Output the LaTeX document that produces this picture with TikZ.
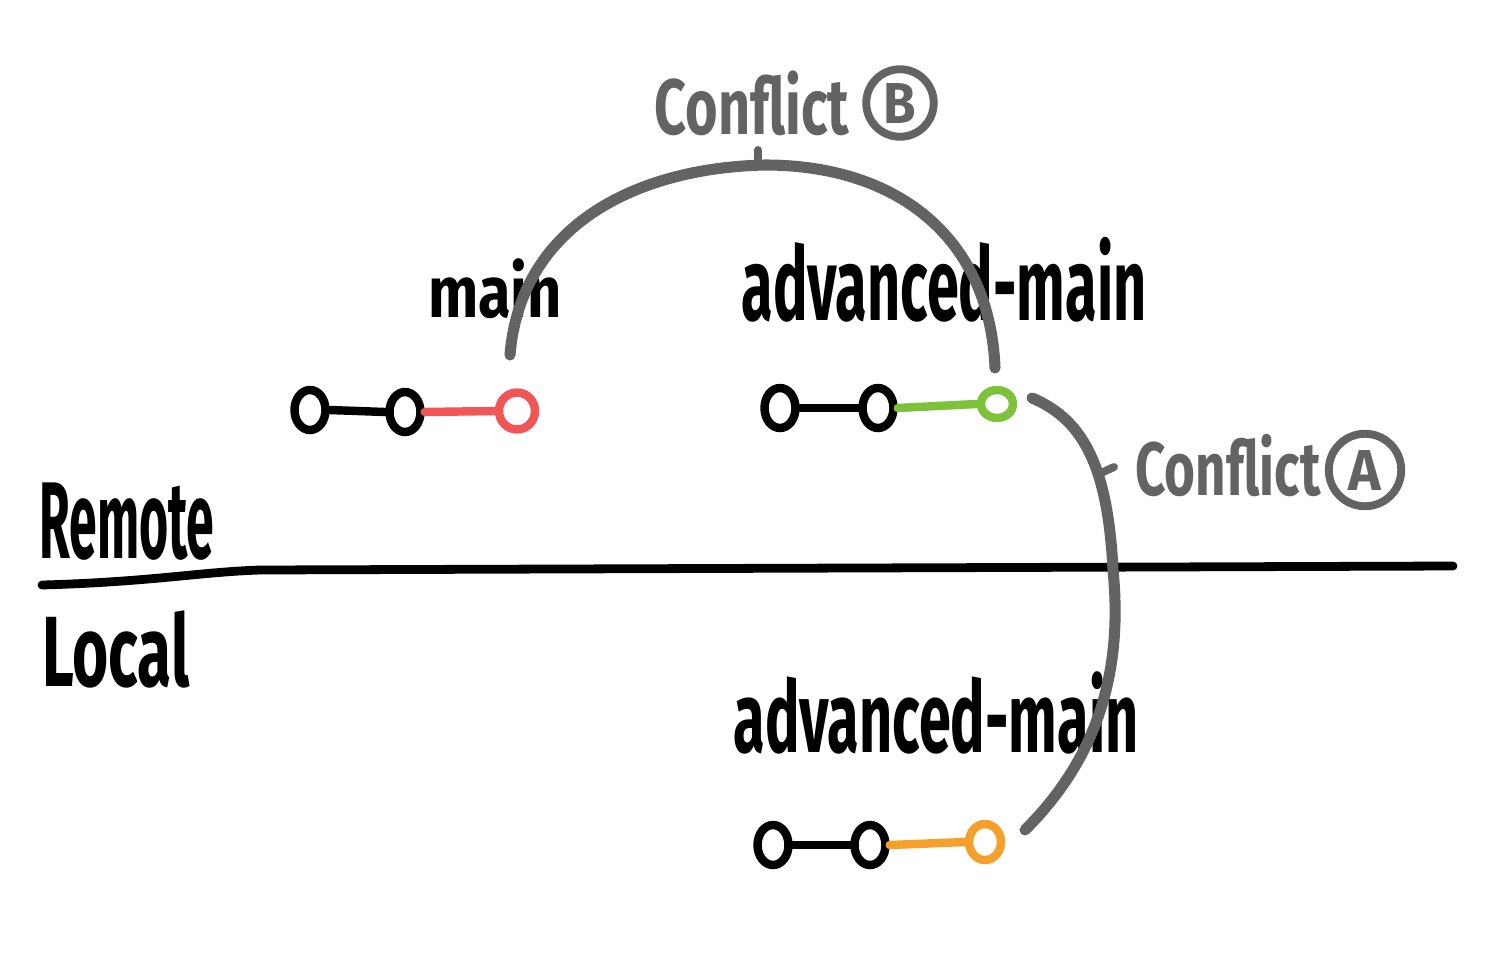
\documentclass[tikz,border=0pt]{standalone}
\usepackage{fontspec}
\usepackage{graphicx}
\setmainfont{Fira Sans}
\usetikzlibrary{shapes.geometric}
\definecolor{cgrey}{HTML}{636363}
\definecolor{cred}{HTML}{F25555}
\definecolor{cgreen}{HTML}{7DC23A}
\definecolor{corange}{HTML}{F5A02A}
\newcommand{\hwtext}[3]{\resizebox*{#1}{#2}{\bfseries #3}}
\tikzset{
  commit/.style={ellipse, draw=black, line width=4.8pt, minimum width=0.62cm, minimum height=0.8cm, inner sep=0pt},
  link/.style={line width=4.8pt, line cap=round},
  conflict/.style={draw=cgrey, line width=6.3pt, line cap=round},
  lbl/.style={inner sep=0pt, text=black},
  glbl/.style={inner sep=0pt, text=cgrey},
  circled/.style={circle, draw=cgrey, line width=4.5pt, text=cgrey, inner sep=0pt, minimum size=1.35cm}
}
\begin{document}
\begin{tikzpicture}[x=0.02cm,y=-0.02cm]
\useasboundingbox (0,0) rectangle (1505,961);
% labels
\node[lbl] (mainlbl) at (495,289) {\hwtext{2.68cm}{1.2cm}{main}};
\node[lbl] (advlbl) at (944,280) {\hwtext{8.1cm}{1.7cm}{advanced-main}};
\node[lbl] (advlocal) at (936,713) {\hwtext{8.1cm}{1.65cm}{advanced-main}};
\node[lbl] (remote) at (127,522) {\hwtext{3.5cm}{1.55cm}{Remote}};
\node[lbl] (local) at (116,649) {\hwtext{2.95cm}{1.55cm}{Local}};
% conflict labels
\node[glbl] (cfB) at (752,103) {\hwtext{3.9cm}{1.3cm}{Conflict}};
\node[circled] (cB) at (900,103) {\hwtext{0.65cm}{0.8cm}{B}};
\node[glbl] (cfA) at (1228,466) {\hwtext{3.7cm}{1.25cm}{Conflict}};
\node[circled,minimum size=1.45cm] (cA) at (1365,470) {\hwtext{0.65cm}{0.8cm}{A}};
% remote main
\node[commit] (m1) at (310,410) {};
\node[commit] (m2) at (405,412) {};
\node[commit,draw=cred,minimum width=0.72cm,minimum height=0.74cm] (m3) at (517,411) {};
\draw[link] (m1.east) -- (m2.west);
\draw[link,cred] (m2.east) -- (m3.west);
% remote advanced-main
\node[commit] (a1) at (780,408) {};
\node[commit] (a2) at (878,408) {};
\node[commit,draw=cgreen,minimum width=0.64cm,minimum height=0.56cm] (a3) at (997,404) {};
\draw[link] (a1.east) -- (a2.west);
\draw[link,cgreen] (a2.east) -- (a3.west);
% local advanced-main
\node[commit] (l1) at (773,845) {};
\node[commit] (l2) at (870,845) {};
\node[commit,draw=corange,minimum width=0.64cm,minimum height=0.72cm] (l3) at (985,842) {};
\draw[link] (l1.east) -- (l2.west);
\draw[link,corange] (l2.east) -- (l3.west);
% separator
\coordinate (sepL) at (42,585);
\coordinate (sepM) at (260,570);
\coordinate (sepR) at (1453,566);
\draw[line width=5pt, line cap=round] (sepL) .. controls (150,582) and (200,572) .. (sepM) -- (sepR);
% conflict B arc
\coordinate (cbS) at (510,355);
\coordinate (cbT) at (765,165);
\coordinate (cbE) at (995,368);
\coordinate (cbTick) at (758,150);
\draw[conflict] (cbS) .. controls (520,230) and (630,168) .. (cbT) .. controls (900,165) and (990,240) .. (cbE);
\draw[conflict,line width=4.5pt] (cbTick) -- (758,165);
% conflict A arc
\coordinate (caS) at (1032,398);
\coordinate (caM) at (1113,570);
\coordinate (caE) at (1025,830);
\coordinate (caTick) at (1114,467);
\draw[conflict] (caS) .. controls (1085,420) and (1108,470) .. (caM) .. controls (1125,690) and (1085,770) .. (caE);
\draw[conflict,line width=4.5pt] (1101,473) -- (caTick);
\end{tikzpicture}
\end{document}
